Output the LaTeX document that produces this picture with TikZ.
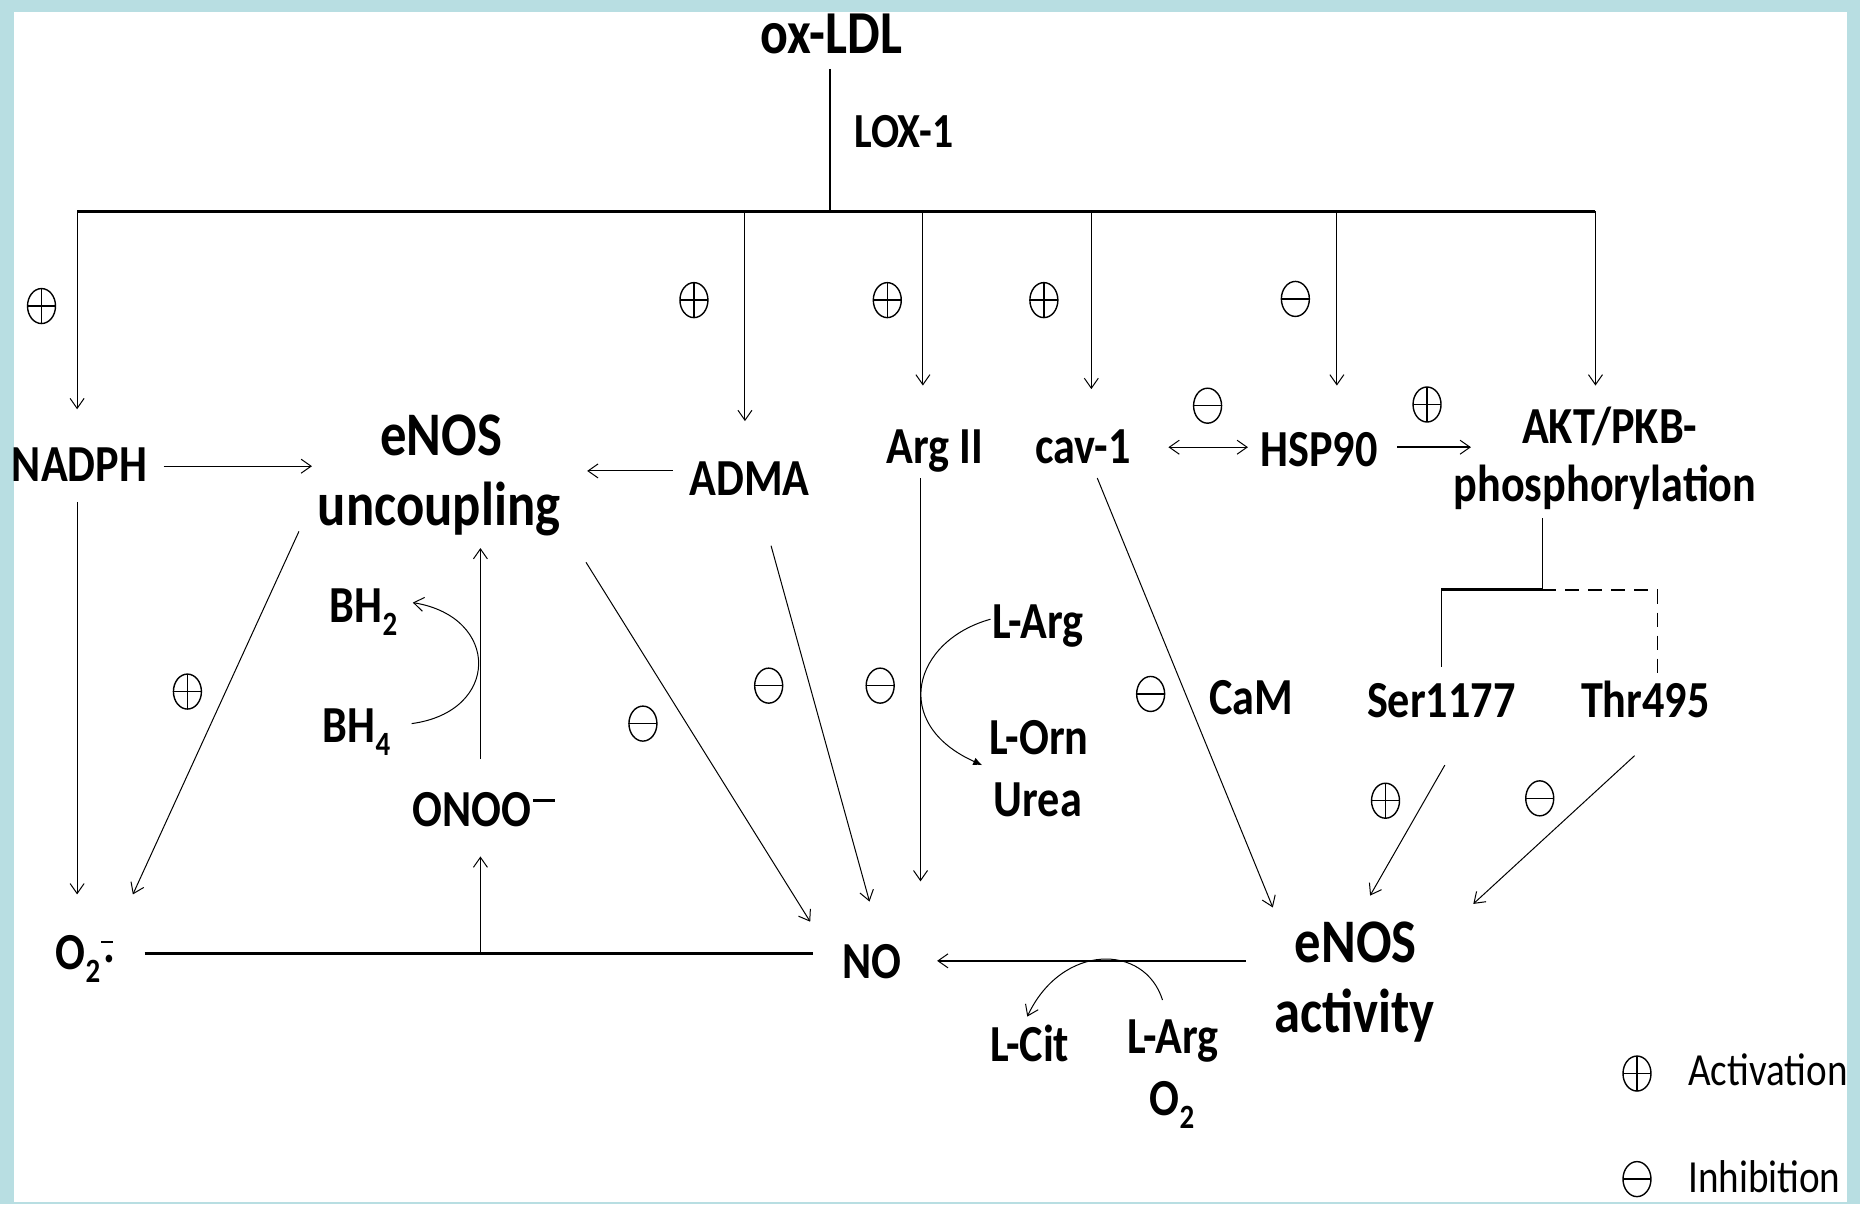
\documentclass[tikz,border=0pt]{standalone}
\usepackage{fontspec}
\setmainfont{Carlito}[FakeStretch=0.85]
\usetikzlibrary{arrows.meta,shapes.geometric}
\definecolor{framecol}{RGB}{184,222,226}
\newcommand\fA{\bfseries\fontsize{52}{60}\selectfont}
\newcommand\fL{\bfseries\fontsize{62}{70}\selectfont}
\newcommand\fT{\bfseries\fontsize{61}{70}\selectfont}
\newcommand\fX{\bfseries\fontsize{49}{56}\selectfont}
\newcommand\fG{\fontsize{46}{54}\selectfont}
\newcommand\subs[1]{\raisebox{-0.25em}{\fontsize{34}{34}\selectfont #1}}
\tikzset{
  txt/.style={inner sep=0pt, font=\fA},
  arr/.style={line width=1pt, -{Straight Barb[length=10pt,width=14pt,line width=1pt]}},
  darr/.style={line width=1pt, {Straight Barb[length=10pt,width=14pt,line width=1pt]}-{Straight Barb[length=10pt,width=14pt,line width=1pt]}},
  ln/.style={line width=1pt},
  bar/.style={line width=3pt},
  sym/.style={draw, ellipse, line width=1.4pt, minimum width=28pt, minimum height=35pt, inner sep=0pt},
  actsym/.style={sym, path picture={\draw[line width=1.4pt] (path picture bounding box.west)--(path picture bounding box.east) (path picture bounding box.north)--(path picture bounding box.south);}},
  inhsym/.style={sym, path picture={\draw[line width=1.4pt] (path picture bounding box.west)--(path picture bounding box.east);}},
}
\begin{document}
\begin{tikzpicture}[x=1.1862pt,y=-1.1862pt]
\fill[framecol] (0,0) rectangle (1568,1015);
\fill[white] (12,10) rectangle (1557,1013);
\useasboundingbox (0,0) rectangle (1568,1015);

% ---------- text nodes ----------
\node[txt,anchor=base,font=\fT] (oxldl) at (701,45) {ox-LDL};
\node[txt,anchor=base west,font=\fX] (lox) at (720,124) {LOX-1};
\node[txt,anchor=base] (nadph) at (67,406) {NADPH};
\node[txt,anchor=base,font=\fL] (enosu1) at (372,384) {eNOS};
\node[txt,anchor=base,font=\fL] (enosu2) at (370,443) {uncoupling};
\node[txt,anchor=base] (adma) at (632,418) {ADMA};
\node[txt,anchor=base] (arg2) at (788,391) {Arg II};
\node[txt,anchor=base] (cav) at (913,391) {cav-1};
\node[txt,anchor=base] (hsp) at (1112,393) {HSP90};
\node[txt,anchor=base] (akt1) at (1357,374) {AKT/PKB-};
\node[txt,anchor=base] (akt2) at (1353,423) {phosphorylation};
\node[txt,anchor=base] (ser) at (1215,605) {Ser1177};
\node[txt,anchor=base] (thr) at (1387,605) {Thr495};
\node[txt,anchor=base] (cam) at (1055,602) {CaM};
\node[txt,anchor=base] (larg1) at (875,538) {L-Arg};
\node[txt,anchor=base] (lorn) at (876,636) {L-Orn};
\node[txt,anchor=base] (urea) at (875,688) {Urea};
\node[txt,anchor=base west] (bh2) at (278,525) {BH\subs{2}};
\node[txt,anchor=base west] (bh4) at (272,626) {BH\subs{4}};
\node[txt,anchor=base] (onoo) at (408,697) {ONOO\kern1.5pt\rule[0.47em]{0.42em}{0.065em}};
\node[txt,anchor=base] (o2r) at (72,817) {O\subs{2}\rlap{\kern1pt\raisebox{0.5em}{\rule{0.22em}{0.045em}}}\kern3pt\raisebox{0.12em}{.}};
\node[txt,anchor=base] (no) at (735,825) {NO};
\node[txt,anchor=base,font=\fL] (enosa1) at (1143,811) {eNOS};
\node[txt,anchor=base,font=\fL] (enosa2) at (1142,870) {activity};
\node[txt,anchor=base] (lcit) at (868,895) {L-Cit};
\node[txt,anchor=base] (larg2) at (989,888) {L-Arg};
\node[txt,anchor=base] (o2) at (988,940) {O\subs{2}};
\node[txt,anchor=base west,font=\fG] (actl) at (1423,915) {Activation};
\node[txt,anchor=base west,font=\fG] (inhl) at (1423,1005) {Inhibition};

% ---------- symbols ----------
\node[actsym] (s1) at (35,258) {};
\node[actsym] (s2) at (585,253) {};
\node[actsym] (s3) at (748,253) {};
\node[actsym] (s4) at (880,253) {};
\node[inhsym] (s5) at (1092,252) {};
\node[inhsym] (s6) at (1018,342) {};
\node[actsym] (s7) at (1203,341) {};
\node[actsym] (s8) at (158,583) {};
\node[inhsym] (s9) at (542,610) {};
\node[inhsym] (s10) at (648,578) {};
\node[inhsym] (s11) at (742,578) {};
\node[inhsym] (s12) at (970,585) {};
\node[actsym] (s13) at (1168,675) {};
\node[inhsym] (s14) at (1298,673) {};
\node[actsym] (s15) at (1380,905) {};
\node[inhsym] (s16) at (1380,994) {};

% ---------- named coordinates ----------
\coordinate (oxb) at (700,58);
\coordinate (bj) at (700,178);
\coordinate (bl) at (65,178);
\coordinate (br) at (1345,178);
\coordinate (b1) at (628,178);
\coordinate (b2) at (778,178);
\coordinate (b3) at (920,178);
\coordinate (b4) at (1127,178);
\coordinate (nadphT) at (65,345);
\coordinate (admaT) at (628,355);
\coordinate (argT) at (778,325);
\coordinate (cavT) at (920,328);
\coordinate (hspT) at (1127,325);
\coordinate (aktT) at (1345,325);
\coordinate (nadE) at (138,393);
\coordinate (enuW) at (263,393);
\coordinate (admaW) at (567,397);
\coordinate (enuE) at (495,397);
\coordinate (cavE) at (985,377);
\coordinate (hspW) at (1052,377);
\coordinate (hspE) at (1178,377);
\coordinate (aktW) at (1240,377);
\coordinate (aktS) at (1300,437);
\coordinate (tj) at (1300,497);
\coordinate (tl) at (1215,497);
\coordinate (tr) at (1397,497);
\coordinate (serN) at (1215,562);
\coordinate (thrN) at (1397,570);
\coordinate (serS) at (1218,645);
\coordinate (enaN1) at (1155,755);
\coordinate (thrS) at (1378,637);
\coordinate (enaN2) at (1242,762);
\coordinate (cavS) at (925,403);
\coordinate (enaN3) at (1073,765);
\coordinate (enaW) at (1050,810);
\coordinate (noE) at (790,810);
\coordinate (largA) at (980,843);
\coordinate (lcitA) at (866,857);
\coordinate (o2E) at (122,804);
\coordinate (noW) at (685,804);
\coordinate (onj) at (405,804);
\coordinate (onooS) at (405,722);
\coordinate (onooN) at (405,640);
\coordinate (enuS) at (405,462);
\coordinate (bh4E) at (347,610);
\coordinate (bh2E) at (348,508);
\coordinate (enuSW) at (252,448);
\coordinate (o2NE) at (112,754);
\coordinate (nadS) at (65,423);
\coordinate (o2N) at (65,754);
\coordinate (enuSE) at (494,474);
\coordinate (noNW) at (683,777);
\coordinate (admaS) at (650,460);
\coordinate (noN) at (733,760);
\coordinate (argS) at (776,403);
\coordinate (noNE) at (776,743);
\coordinate (largW) at (835,522);
\coordinate (lornW) at (828,645);

% ---------- connectors ----------
\draw[line width=2pt] (oxb) -- (bj);
\draw[bar] (bl) -- (br);
\draw[arr] (bl) -- (nadphT);
\draw[arr] (b1) -- (admaT);
\draw[arr] (b2) -- (argT);
\draw[arr] (b3) -- (cavT);
\draw[arr] (b4) -- (hspT);
\draw[arr] (br) -- (aktT);
\draw[arr] (nadE) -- (enuW);
\draw[arr] (admaW) -- (enuE);
\draw[darr] (cavE) -- (hspW);
\draw[arr,line width=1.5pt] (hspE) -- (aktW);
\draw[ln] (aktS) -- (tj);
\draw[line width=2.5pt] (tl) -- (tj);
\draw[line width=2pt,dash pattern=on 14pt off 9pt] (tj) -- (tr);
\draw[ln,dash pattern=on 14pt off 9pt] (tr) -- (thrN);
\draw[ln] (tl) -- (serN);
\draw[arr] (serS) -- (enaN1);
\draw[arr] (thrS) -- (enaN2);
\draw[arr] (cavS) -- (enaN3);
\draw[arr,line width=2pt] (enaW) -- (noE);
\draw[arr] (largA) .. controls (965,795) and (895,795) .. (lcitA);
\draw[bar] (o2E) -- (noW);
\draw[arr] (onj) -- (onooS);
\draw[arr] (onooN) -- (enuS);
\draw[arr] (bh4E) .. controls (422,600) and (422,520) .. (bh2E);
\draw[arr] (enuSW) -- (o2NE);
\draw[arr] (nadS) -- (o2N);
\draw[arr] (enuSE) -- (noNW);
\draw[arr] (admaS) -- (noN);
\draw[arr] (argS) -- (noNE);
\draw[line width=1pt,-{Latex[length=9pt,width=8pt]}] (largW) .. controls (770,540) and (750,610) .. (lornW);
\end{tikzpicture}
\end{document}
